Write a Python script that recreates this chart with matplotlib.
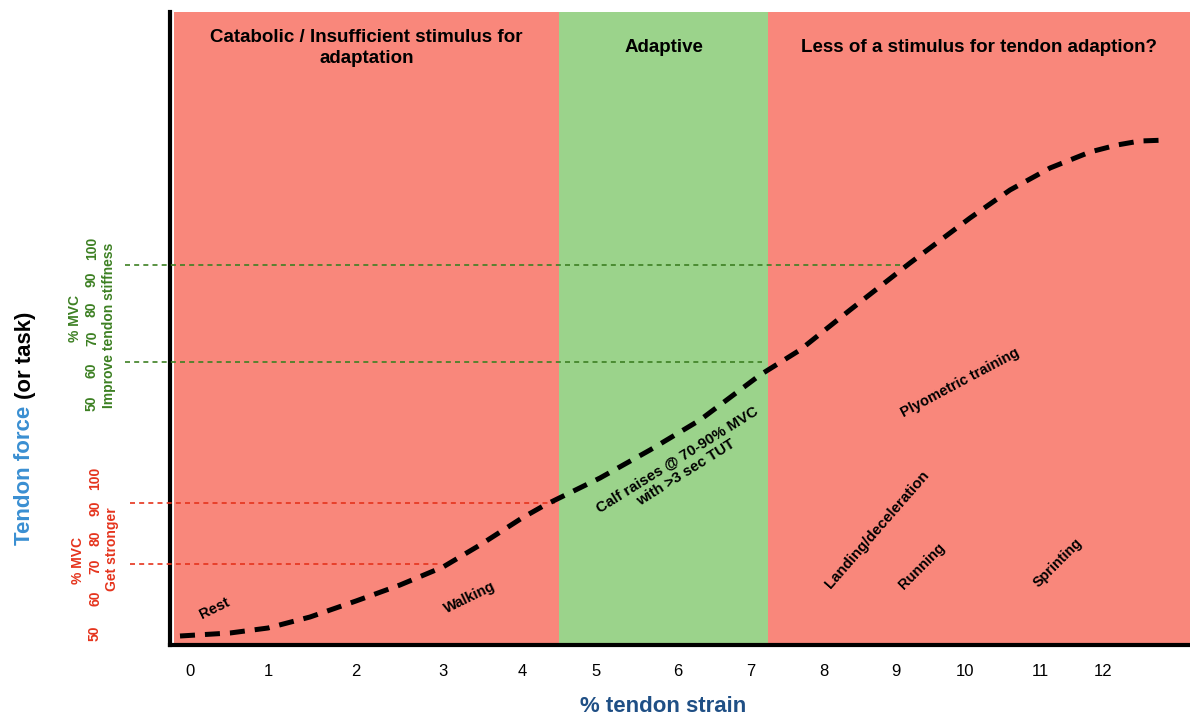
import matplotlib.pyplot as plt
import numpy as np

plt.rcParams['font.family'] = ['Liberation Sans', 'DejaVu Sans']

# horizontal axis runs in its own position units (0..1020), ticks placed as drawn
tick_pos = [20, 98, 186, 273, 352, 426, 508, 581, 654, 726, 795, 870, 933]
tick_labels = [str(i) for i in range(13)]

# zones: start, end, colour, title
zone_edges = [4, 389, 598, 1020]
zone_colors = ['#f9877b', '#9bd38b', '#f9877b']
zone_titles = ['Catabolic / Insufficient stimulus for\nadaptation', 'Adaptive',
               'Less of a stimulus for tendon adaption?']

# load / strain curve
curve_x = [10, 60, 98, 140, 186, 230, 273, 310, 352, 375, 430, 480, 530, 590,
           630, 680, 740, 800, 840, 880, 920, 947, 970, 998]
curve_y = [9, 12, 17, 28, 44, 60, 78, 100, 127, 140, 167, 195, 225, 270,
           295, 335, 382, 427, 455, 477, 493, 500, 504, 505]

# %MVC reference lines (level, start, end)
green_lines = [(380, -45, 737), (283, -45, 592)]
red_lines = [(142, -40, 385), (81, -40, 270)]

mvc_labels = [50, 60, 70, 80, 90, 100]
green_mvc_y = [242, 275, 307, 336, 366, 397]
red_mvc_y = [12, 47, 79, 107, 137, 167]

tasks = ['Rest', 'Walking', 'Calf raises @ 70-90% MVC\nwith >3 sec TUT', 'Plyometric training',
         'Landing/deceleration', 'Running', 'Sprinting']
task_x = [45, 300, 512, 790, 707, 752, 888]
task_y = [37, 47, 179, 262, 115, 79, 82]
task_rot = [26, 26, 32, 28, 49, 45, 45]
task_size = [10.5, 10.5, 10.8, 10.5, 10.8, 10.5, 10.3]

green_txt = '#3d8023'
red_txt = '#e5341d'

fig = plt.figure(figsize=(11.9, 7.17), dpi=100)
ax = fig.add_axes([170/1190, 72/717, 1020/1190, 633/717])
ax.set_xlim(0, 1020)
ax.set_ylim(0, 633)

for i in range(3):
    ax.axvspan(zone_edges[i], zone_edges[i+1], color=zone_colors[i], lw=0, zorder=0)
    ax.text((zone_edges[i] + zone_edges[i+1]) / 2, 597, zone_titles[i],
            ha='center', va='center', fontsize=13.5, fontweight='bold', linespacing=1.35)

ax.plot(curve_x, curve_y, color='black', lw=3.6, linestyle=(0, (3, 2)), zorder=4)

for y, x0, x1 in green_lines:
    ax.plot([x0, x1], [y, y], color=green_txt, lw=1.2, linestyle=(0, (3, 2.5)), clip_on=False, zorder=3)
for y, x0, x1 in red_lines:
    ax.plot([x0, x1], [y, y], color=red_txt, lw=1.2, linestyle=(0, (3, 2.5)), clip_on=False, zorder=3)

for t, x, y, r, s in zip(tasks, task_x, task_y, task_rot, task_size):
    ax.text(x, y, t, rotation=r, ha='center', va='center', fontsize=s,
            fontweight='bold', multialignment='center', linespacing=1.15, rotation_mode='anchor')

# left side labels
kw = dict(rotation=90, ha='center', va='center', fontweight='bold', clip_on=False)
ax.text(-95, 326, '% MVC', color=green_txt, fontsize=10, **kw)
ax.text(-61, 320, 'Improve tendon stiffness', color=green_txt, fontsize=10, **kw)
for v, y in zip(mvc_labels, green_mvc_y):
    ax.text(-78, y, str(v), color=green_txt, fontsize=10, **kw)
ax.text(-92, 84, '% MVC', color=red_txt, fontsize=10, **kw)
ax.text(-58, 96, 'Get stronger', color=red_txt, fontsize=10, **kw)
for v, y in zip(mvc_labels, red_mvc_y):
    ax.text(-75, y, str(v), color=red_txt, fontsize=10, **kw)

ax.text(-145, 100, 'Tendon force', color='#3a8fd2', fontsize=16, rotation=90,
        ha='center', va='bottom', fontweight='bold', clip_on=False)
ax.text(-145, 246, '(or task)', color='black', fontsize=16, rotation=90,
        ha='center', va='bottom', fontweight='bold', clip_on=False)

ax.text(493, -62, '% tendon strain', color='#1f4f85', fontsize=16,
        ha='center', va='center', fontweight='bold', clip_on=False)

ax.set_xticks(tick_pos, tick_labels)
ax.set_yticks([])
ax.tick_params(axis='x', length=0, pad=14, labelsize=12)
for s in ['top', 'right']:
    ax.spines[s].set_visible(False)
for s in ['left', 'bottom']:
    ax.spines[s].set_linewidth(3)

fig.savefig('out.png', dpi=100)
